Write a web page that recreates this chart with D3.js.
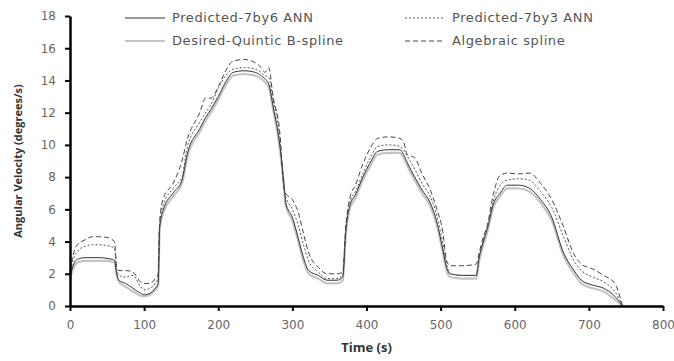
<!DOCTYPE html>
<html>
<head>
<meta charset="utf-8">
<script src="https://cdn.jsdelivr.net/npm/d3@7"></script>
<style>
  body { margin: 0; background: #fff; overflow: hidden; }
  svg { display: block; }
  text { font-family: "Open Sans", sans-serif; }
</style>
</head>
<body>
<svg id="chart" width="674" height="361"></svg>
<script>
// time samples (s)
const time = [0, 5, 10, 20, 30, 40, 50, 60, 63, 66, 75, 85, 95, 100, 108, 115, 119, 121, 126, 139,
  151, 158, 175, 183, 190, 200, 210, 220, 235, 250, 258, 263, 268, 274, 283, 289, 291, 300, 308, 315,
  322, 335, 347, 360, 368, 372, 378, 385, 395, 405, 415, 430, 445, 450, 455, 465, 475, 486, 495, 503,
  508, 513, 530, 548, 552, 557, 563, 571, 580, 590, 605, 620, 635, 650, 665, 680, 690, 705, 720, 735, 745];

const predicted7by6 = [1.8, 2.6, 2.9, 3.0, 3.0, 3.0, 2.95, 2.85, 2.0, 1.6, 1.4, 1.1, 0.8, 0.7, 0.8, 1.1, 1.4, 4.9, 6.0, 7.0,
  7.8, 9.4, 11.0, 11.7, 12.2, 13.0, 13.9, 14.5, 14.6, 14.5, 14.3, 14.1, 13.8, 12.4, 10.0, 7.4, 6.4, 5.5, 4.2, 3.0,
  2.2, 1.9, 1.6, 1.6, 1.8, 4.6, 6.3, 6.9, 8.0, 8.9, 9.6, 9.7, 9.7, 9.4, 8.9, 8.0, 7.2, 6.4, 5.2, 3.5,
  2.4, 2.0, 1.9, 1.9, 3.0, 3.9, 4.8, 6.3, 7.0, 7.5, 7.5, 7.3, 6.6, 5.5, 3.4, 2.2, 1.6, 1.3, 1.1, 0.6, 0.05];

const predicted7by3 = [2.0, 3.0, 3.4, 3.7, 3.8, 3.8, 3.75, 3.6, 2.3, 1.9, 1.8, 1.9, 1.2, 1.0, 1.1, 1.4, 1.8, 5.1, 6.3, 7.3,
  8.0, 9.8, 11.4, 12.0, 12.5, 13.5, 14.3, 14.7, 14.8, 14.7, 14.5, 14.3, 14.2, 12.8, 10.5, 7.3, 6.8, 6.0, 5.0, 3.8,
  2.8, 2.1, 1.7, 1.7, 1.9, 4.7, 6.5, 7.1, 8.2, 9.2, 9.9, 10.0, 9.9, 9.7, 9.3, 8.5, 7.6, 6.8, 5.6, 3.9,
  2.6, 2.0, 1.9, 1.9, 3.1, 4.0, 4.9, 6.5, 7.5, 7.8, 7.9, 7.8, 7.1, 6.1, 4.4, 2.8, 2.2, 1.8, 1.5, 0.9, 0.05];

const desiredQuintic = [1.7, 2.4, 2.7, 2.8, 2.8, 2.8, 2.8, 2.7, 1.9, 1.5, 1.2, 0.9, 0.65, 0.6, 0.7, 1.0, 1.3, 4.7, 5.8, 6.8,
  7.6, 9.2, 10.8, 11.5, 12.0, 12.8, 13.7, 14.3, 14.4, 14.3, 14.1, 13.9, 13.6, 12.2, 9.8, 7.2, 6.2, 5.3, 4.0, 2.8,
  2.0, 1.7, 1.4, 1.4, 1.6, 4.4, 6.1, 6.7, 7.8, 8.7, 9.4, 9.5, 9.5, 9.2, 8.7, 7.8, 7.0, 6.2, 5.0, 3.3,
  2.2, 1.8, 1.7, 1.7, 2.8, 3.7, 4.6, 6.1, 6.8, 7.3, 7.3, 7.1, 6.4, 5.3, 3.2, 2.0, 1.4, 1.1, 0.9, 0.4, 0.0];

const algebraicSpline = [2.2, 3.3, 3.8, 4.1, 4.3, 4.3, 4.25, 4.0, 2.4, 2.2, 2.2, 2.1, 1.5, 1.4, 1.4, 1.7, 2.0, 5.3, 6.7, 7.6,
  9.0, 10.3, 12.0, 12.9, 12.9, 13.6, 14.6, 15.2, 15.3, 15.1, 14.8, 14.5, 14.8, 13.0, 10.8, 7.2, 7.0, 6.6, 5.8, 4.5,
  3.3, 2.4, 2.0, 2.0, 2.1, 4.9, 6.8, 7.5, 8.8, 9.8, 10.4, 10.5, 10.4, 10.2, 9.4, 9.2, 8.2, 7.2, 6.0, 4.6,
  2.8, 2.5, 2.5, 2.6, 3.3, 4.2, 5.0, 6.9, 8.1, 8.25, 8.2, 8.25, 7.6, 6.6, 5.0, 3.2, 2.6, 2.3, 1.9, 1.4, 0.05];

const xTicks = [0, 100, 200, 300, 400, 500, 600, 700, 800];
const yTicks = [0, 2, 4, 6, 8, 10, 12, 14, 16, 18];

const series = [
  { name: "Desired-Quintic B-spline", values: desiredQuintic, color: "#c4c4c4", width: 2.2, dash: null, legend: [125, 41] },
  { name: "Predicted-7by6 ANN", values: predicted7by6, color: "#333", width: 1, dash: null, legend: [125, 18] },
  { name: "Predicted-7by3 ANN", values: predicted7by3, color: "#555", width: 1, dash: "2,2", legend: [405, 18] },
  { name: "Algebraic spline", values: algebraicSpline, color: "#444", width: 1, dash: "5,3", legend: [405, 41] }
];

const margin = { top: 16, right: 11, bottom: 55, left: 70 },
  width = 674,
  height = 361,
  innerWidth = width - margin.left - margin.right,
  innerHeight = height - margin.top - margin.bottom;

const svg = d3.select("#chart");
const g = svg.append("g").attr("transform", `translate(${margin.left},${margin.top})`);

let xScale = d3.scaleLinear().domain([0, 800]).range([0, innerWidth]);
let yScale = d3.scaleLinear().domain([0, 18]).range([innerHeight, 0]);

// lines
series.forEach(s => {
  let line = d3.line()
    .x((d, i) => xScale(time[i]))
    .y(d => yScale(d))
    .curve(d3.curveMonotoneX);
  g.append("path").attr("d", line(s.values))
    .attr("fill", "none").attr("stroke", s.color).attr("stroke-width", s.width)
    .attr("stroke-dasharray", s.dash);
});

// axes
const xAxis = g.append("g").attr("transform", `translate(0,${innerHeight})`)
  .call(d3.axisBottom(xScale).tickValues(xTicks).tickSize(5).tickPadding(9).tickSizeOuter(0));
const yAxis = g.append("g")
  .call(d3.axisLeft(yScale).tickValues(yTicks).tickSize(5).tickPadding(9).tickSizeOuter(0));

[xAxis, yAxis].forEach(a => {
  a.select(".domain").attr("stroke", "#000").attr("stroke-width", 2.5);
  a.selectAll(".tick line").attr("stroke", "#000").attr("stroke-width", 2);
  a.selectAll(".tick text").attr("fill", "#666")
    .style("font-family", "'DejaVu Sans', sans-serif").style("font-size", "12px");
});

// axis titles
svg.append("text").attr("x", margin.left + innerWidth / 2).attr("y", 352)
  .attr("text-anchor", "middle").attr("fill", "#333")
  .style("font-size", "13px").style("font-weight", "bold").text("Time (s)");
svg.append("text").attr("transform", `translate(22,${margin.top + innerHeight / 2}) rotate(-90)`)
  .attr("text-anchor", "middle").attr("fill", "#333")
  .style("font-size", "11px").style("font-weight", "bold").text("Angular Velocity (degrees/s)");

// legend
const legend = svg.append("g");
series.forEach(s => {
  let [lx, ly] = s.legend;
  legend.append("line").attr("x1", lx).attr("x2", lx + 40).attr("y1", ly).attr("y2", ly)
    .attr("stroke", s.color).attr("stroke-width", s.width).attr("stroke-dasharray", s.dash);
  legend.append("text").attr("x", lx + 47).attr("y", ly + 4)
    .attr("fill", "#555").style("font-family", "'DejaVu Sans', sans-serif")
    .style("font-size", "13px").style("letter-spacing", "0.6px").text(s.name);
});
</script>
</body>
</html>
